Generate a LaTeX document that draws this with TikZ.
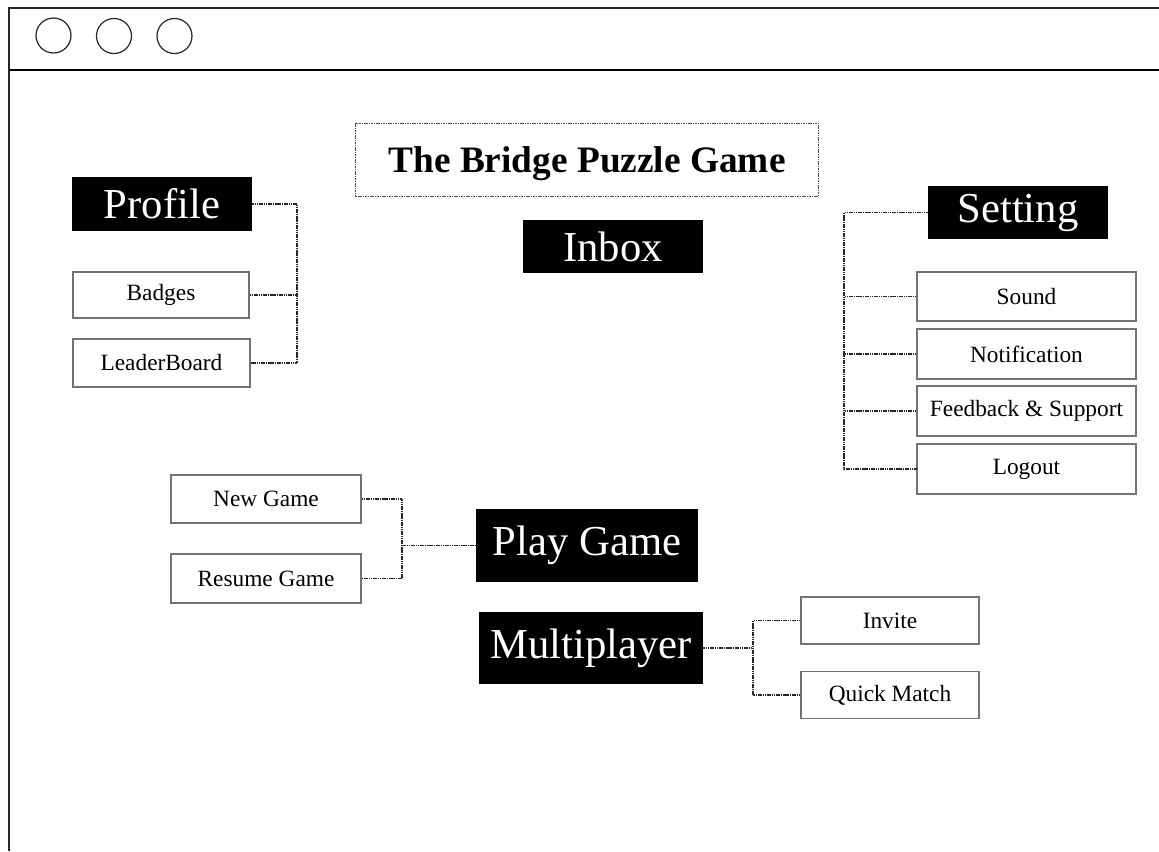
\documentclass[tikz,border=0pt]{standalone}
\usepackage{fontspec}
\setmainfont{Liberation Serif}

\begin{document}
\begin{tikzpicture}[x=0.75pt,y=-0.75pt,
  bigbox/.style={fill=black,text=white,inner sep=0pt,font=\fontsize{32}{38}\selectfont},
  smallbox/.style={draw=black!55,line width=0.8pt,fill=white,inner sep=0pt,font=\fontsize{17.5}{20}\selectfont},
  link/.style={draw=black!85,line width=0.85pt,dash pattern=on 1.2pt off 0.5pt}]
\useasboundingbox (0,0) rectangle (1159,851);
\fill[white] (0,0) rectangle (1159,851);
\draw[line width=1.1pt,black!85] (9,851) -- (9,8) -- (1159,8);
\draw[line width=1.8pt] (9,70) -- (1159,70);
\draw[line width=0.9pt,black!85] (53.5,35.5) circle (17.5);
\draw[line width=0.9pt,black!85] (114,36) circle (17.5);
\draw[line width=0.9pt,black!85] (174.5,36) circle (17.5);
\node[draw=black!70,line width=0.6pt,dash pattern=on 1.2pt off 0.6pt,minimum width=347pt,minimum height=55pt,text depth=0pt,font=\bfseries\fontsize{28}{32}\selectfont] (titl) at (587,160) {The Bridge Puzzle Game};
\node[bigbox,minimum width=135pt,minimum height=40pt] (inbx) at (613,246.5) {Inbox};
\node[bigbox,minimum width=135pt,minimum height=40.5pt] (prof) at (162,204) {Profile};
\node[smallbox,minimum width=132pt,minimum height=34.5pt] (badg) at (161,295) {Badges};
\node[smallbox,minimum width=132.75pt,minimum height=36pt] (lead) at (161.5,363) {LeaderBoard};
\node[bigbox,minimum width=135pt,minimum height=40pt] (sett) at (1018,212.5) {Setting};
\node[smallbox,minimum width=164.25pt,minimum height=36.75pt] (snd) at (1026.5,296.5) {Sound};
\node[smallbox,minimum width=164.25pt,minimum height=37.5pt] (noti) at (1026.5,354) {Notification};
\node[smallbox,minimum width=164.25pt,minimum height=37.5pt] (feed) at (1026.5,411) {Feedback \& Support};
\node[smallbox,minimum width=164.25pt,minimum height=37.5pt] (logo) at (1026.5,469) {Logout};
\node[smallbox,minimum width=142.5pt,minimum height=36pt] (newg) at (266,499) {New Game};
\node[smallbox,minimum width=142.5pt,minimum height=36.75pt] (resg) at (266,578.5) {Resume Game};
\node[bigbox,minimum width=166.5pt,minimum height=54.75pt] (play) at (587,545.5) {Play Game};
\node[bigbox,minimum width=168pt,minimum height=54pt] (mult) at (591,648) {Multiplayer};
\node[smallbox,minimum width=133.5pt,minimum height=35.25pt] (invt) at (890,620.5) {Invite};
\node[smallbox,minimum width=133.5pt,minimum height=35.25pt] (qmat) at (890,695) {Quick Match};
\coordinate (pbus) at (297,204);
\coordinate (sbus) at (844,212.5);
\coordinate (gbus) at (402,540);
\coordinate (mbus) at (753,648);
\draw[link] (prof.east) -- (pbus) |- (lead.east);
\draw[link] (badg.east) -- (badg.east -| pbus);
\draw[link] (sett.west) -- (sbus) |- (logo.west);
\draw[link] (snd.west) -- (snd.west -| sbus);
\draw[link] (noti.west) -- (noti.west -| sbus);
\draw[link] (feed.west) -- (feed.west -| sbus);
\draw[link] (newg.east) -- (newg.east -| gbus) -- (resg.east -| gbus) -- (resg.east);
\draw[link] (gbus |- play.west) -- (play.west);
\draw[link] (mult.east) -- (mbus);
\draw[link] (invt.west) -| (mbus) |- (qmat.west);
\end{tikzpicture}
\end{document}
